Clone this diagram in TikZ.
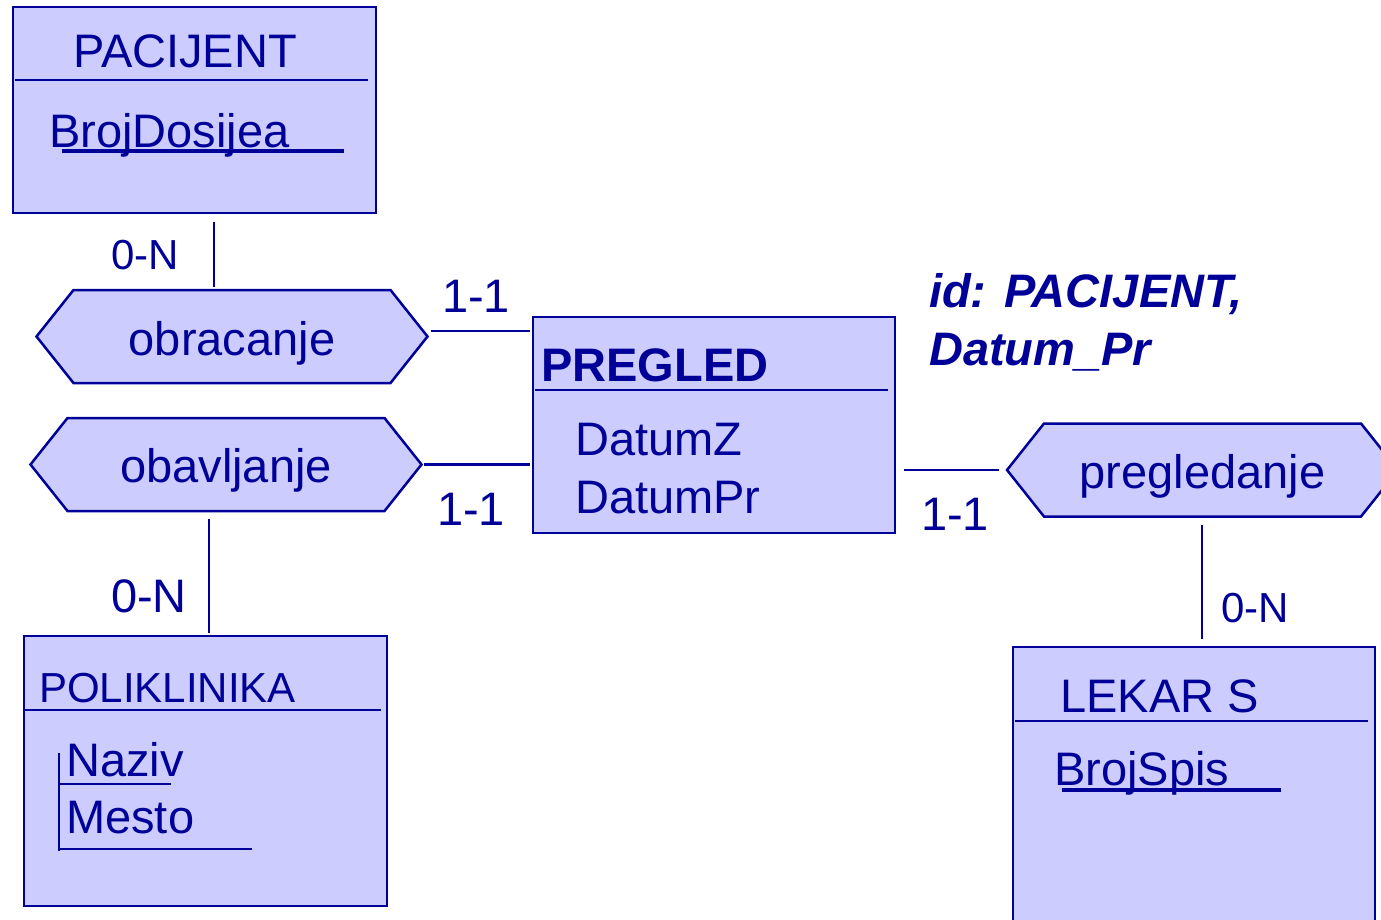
\documentclass[tikz,border=0pt]{standalone}
\usepackage{fontspec}
\setmainfont{Liberation Sans}
\usetikzlibrary{shapes.symbols,calc}
\definecolor{erblue}{RGB}{0,0,153}
\definecolor{erfill}{RGB}{204,204,255}
\tikzset{
    entity/.style={draw=erblue, fill=erfill, line width=2.8pt, anchor=north west, inner sep=0pt, outer sep=0pt},
    relation/.style={signal, signal to=west and east, signal pointer angle=103,
        draw=erblue, fill=erfill, line width=2.5pt, minimum width=391pt, minimum height=93pt,
        inner sep=0pt, outer sep=0pt},
    txt/.style={anchor=base west, inner sep=0pt, text=erblue, font=\fontsize{47}{56}\selectfont},
    small/.style={font=\fontsize{42}{50}\selectfont},
    link/.style={draw=erblue, line width=2.5pt},
}
\begin{document}
\begin{tikzpicture}[x=1pt,y=-1pt]
    \useasboundingbox (0,0) rectangle (1381,919);
    % entities
    \node[entity, minimum width=363pt, minimum height=206pt] (pacijent) at (13,7) {};
    \draw[link] (15,80) -- (368,80);
    \node[txt] (pacijentname) at (73,67) {PACIJENT};
    \node[txt] (brojdosijea) at (49,147) {BrojDosijea};
    \draw[link, line width=4pt] (62,151) -- (344,151);

    \node[entity, minimum width=362pt, minimum height=216pt] (pregled) at (533,317) {};
    \draw[link] (535,390) -- (888,390);
    \node[txt, font=\fontsize{47}{56}\selectfont\bfseries] (pregledname) at (541,381) {PREGLED};
    \node[txt] (datumz) at (575,455) {DatumZ};
    \node[txt] (datumpr) at (575,513) {DatumPr};

    \node[entity, minimum width=363pt, minimum height=270pt] (poliklinika) at (24,636) {};
    \draw[link] (25,710) -- (381,710);
    \node[txt, small] (poliklinikaname) at (39,702) {POLIKLINIKA};
    \node[txt] (naziv) at (66,776) {Naziv};
    \node[txt] (mesto) at (66,833) {Mesto};
    \draw[link] (59,753) -- (59,851);
    \draw[link] (59,784) -- (171,784);
    \draw[link] (59,849) -- (252,849);

    \node[entity, minimum width=362pt, minimum height=300pt] (lekar) at (1013,647) {};
    \draw[link] (1015,721) -- (1368,721);
    \node[txt] (lekarname) at (1060,712) {LEKAR S};
    \node[txt] (brojspis) at (1054,785) {BrojSpis};
    \draw[link, line width=4pt] (1062,790) -- (1281,790);

    % relationships
    \node[relation] (obracanje) at (232,336.5) {};
    \node[relation] (obavljanje) at (226,464.5) {};
    \node[relation] (pregledanje) at (1202.5,470) {};
    \node[txt, anchor=base] (obracanjename) at ($(obracanje.center)+(0,18.5)$) {obracanje};
    \node[txt, anchor=base] (obavljanjename) at ($(obavljanje.center)+(0,17.5)$) {obavljanje};
    \node[txt, anchor=base] (pregledanjename) at ($(pregledanje.center)+(0,18)$) {pregledanje};

    \draw[link] ($(pacijent.south)+(19.5,9)$) -- ($(obracanje.north)+(-18,-3)$);
    \draw[link] ($(obracanje.east)+(3,-5.5)$) coordinate (o1) -- ($(o1 -| pregled.west)+(-3,0)$);
    \draw[link] ($(obavljanje.east)+(2,0)$) coordinate (o2) -- ($(o2 -| pregled.west)+(-3,0)$);
    \draw[link] ($(pregled.east)+(9,45)$) coordinate (p1) -- ($(p1 -| pregledanje.west)+(-8,0)$);
    \draw[link] ($(obavljanje.south)+(-17,8)$) -- ($(poliklinika.north)+(3.5,-3)$);
    \draw[link] ($(pregledanje.south)+(-0.5,8)$) -- ($(lekar.north)+(8,-8)$);

    % cardinalities
    \node[txt, small] (card1) at (111,269) {0-N};
    \node[txt] (card2) at (442,312) {1-1};
    \node[txt] (card3) at (437,525) {1-1};
    \node[txt] (card4) at (921,530) {1-1};
    \node[txt] (card5) at (111,612) {0-N};
    \node[txt, small] (card6) at (1221,622) {0-N};

    % identifier
    \node[txt, font=\fontsize{47}{56}\selectfont\bfseries\itshape] (idline1) at (929,307) {id: PACIJENT,};
    \node[txt, font=\fontsize{47}{56}\selectfont\bfseries\itshape] (idline2) at (929,365) {Datum\_Pr};
\end{tikzpicture}
\end{document}
